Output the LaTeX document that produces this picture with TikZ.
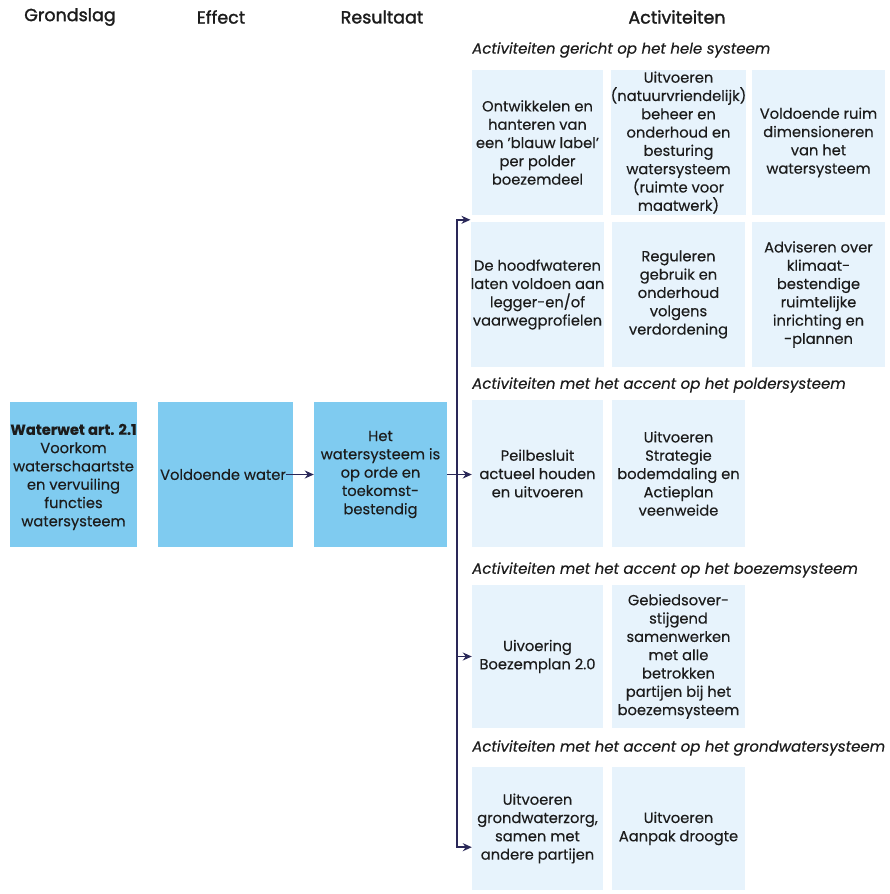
\documentclass[tikz,border=0pt]{standalone}
\usepackage{fontspec}
\setmainfont{Poppins}[FakeBold=0.3]
\newfontfamily\hdrfont[FakeBold=1.6]{Poppins}
\usetikzlibrary{arrows.meta}
\definecolor{midblue}{HTML}{7FCBF0}
\definecolor{paleblue}{HTML}{E7F3FC}
\definecolor{navy}{HTML}{2A2858}
\definecolor{ink}{HTML}{1C1C1C}
\tikzset{
  hdr/.style={font=\hdrfont\fontsize{17.5}{20}\selectfont, text=ink, inner sep=0pt},
  sub/.style={font=\itshape\fontsize{15}{18}\selectfont, text=ink, anchor=west, inner sep=0pt},
  btext/.style={font=\fontsize{14.7}{18.3}\selectfont, text=ink, align=center, inner sep=0pt},
  mainbox/.style={fill=midblue, inner sep=0pt, minimum height=145pt, btext},
  actbox/.style={fill=paleblue, inner sep=0pt, btext},
  arr/.style={draw=navy, line width=1.6pt, -{Stealth[length=9pt,width=8pt]}}
}
\begin{document}
\begin{tikzpicture}[x=1pt,y=-1pt]
\useasboundingbox (0,0) rectangle (890,894);
\fill[white] (0,0) rectangle (890,894);
% column headers
\node[hdr] (h1) at (70,17) {Grondslag};
\node[hdr] (h2) at (221,17) {Effect};
\node[hdr] (h3) at (382,17) {Resultaat};
\node[hdr] (h4) at (677,17) {Activiteiten};
% main boxes
\node[mainbox, minimum width=127pt] (g) at (73.5,474.5) {};
\node[btext] (gt) at (73.5,477) {\textbf{Waterwet art. 2.1}\\Voorkom\\waterschaartste\\en vervuiling\\functies\\watersysteem};
\node[mainbox, minimum width=135pt] (e) at (225.5,474.5) {};
\node[btext] (et) at (223,474.5) {Voldoende water};
\node[mainbox, minimum width=133pt] (r) at (380.5,474.5) {Het\\watersysteem is\\op orde en\\toekomst-\\bestendig};
% sub headings
\node[sub] (s1) at (472,50) {Activiteiten gericht op het hele systeem};
\node[sub] (s2) at (472,385) {Activiteiten met het accent op het poldersysteem};
\node[sub] (s3) at (472,570) {Activiteiten met het accent op het boezemsysteem};
\node[sub] (s4) at (472,748) {Activiteiten met het accent op het grondwatersysteem};
% row 1
\node[actbox, minimum width=131pt, minimum height=145pt] (a11) at (537.5,142.5) {Ontwikkelen en\\hanteren van\\een 'blauw label'\\per polder\\boezemdeel};
\node[actbox, minimum width=133pt, minimum height=145pt] (a12) at (678.5,142.5) {Uitvoeren\\(natuurvriendelijk)\\beheer en\\onderhoud en\\besturing\\watersysteem\\(ruimte voor\\maatwerk)};
\node[actbox, minimum width=133pt, minimum height=145pt] (a13) at (818.5,142.5) {Voldoende ruim\\dimensioneren\\van het\\watersysteem};
% row 2
\node[actbox, minimum width=131pt, minimum height=145pt] (a21) at (537.5,294.5) {De hoodfwateren\\laten voldoen aan\\legger-en/of\\vaarwegprofielen};
\node[actbox, minimum width=133pt, minimum height=145pt] (a22) at (678.5,294.5) {Reguleren\\gebruik en\\onderhoud\\volgens\\verdordening};
\node[actbox, minimum width=133pt, minimum height=145pt] (a23) at (818.5,294.5) {Adviseren over\\klimaat-\\bestendige\\ruimtelijke\\inrichting en\\-plannen};
% row 3
\node[actbox, minimum width=131pt, minimum height=147pt] (a31) at (537.5,473.5) {Peilbesluit\\actueel houden\\en uitvoeren};
\node[actbox, minimum width=133pt, minimum height=147pt] (a32) at (678.5,473.5) {Uitvoeren\\Strategie\\bodemdaling en\\Actieplan\\veenweide};
% row 4
\node[actbox, minimum width=131pt, minimum height=143pt] (a41) at (537.5,656.5) {Uivoering\\Boezemplan 2.0};
\node[actbox, minimum width=133pt, minimum height=143pt] (a42) at (678.5,656.5) {Gebiedsover-\\stijgend\\samenwerken\\met alle\\betrokken\\partijen bij het\\boezemsysteem};
% row 5
\node[actbox, minimum width=131pt, minimum height=123pt] (a51) at (537.5,828.5) {Uitvoeren\\grondwaterzorg,\\samen met\\andere partijen};
\node[actbox, minimum width=133pt, minimum height=123pt] (a52) at (678.5,828.5) {Uitvoeren\\Aanpak droogte};
% connectors
\draw[arr] (et.east) -- (r.west |- et.east);
\draw[arr] (r.east) -- (r.east -| a31.west);
\coordinate (j) at (457,474.5);
\draw[arr] (j) |- ([yshift=2pt]a21.north west);
\draw[arr] (j) |- (a41.west);
\draw[arr] (j) |- ([yshift=43pt]a51.south west);
\end{tikzpicture}
\end{document}
